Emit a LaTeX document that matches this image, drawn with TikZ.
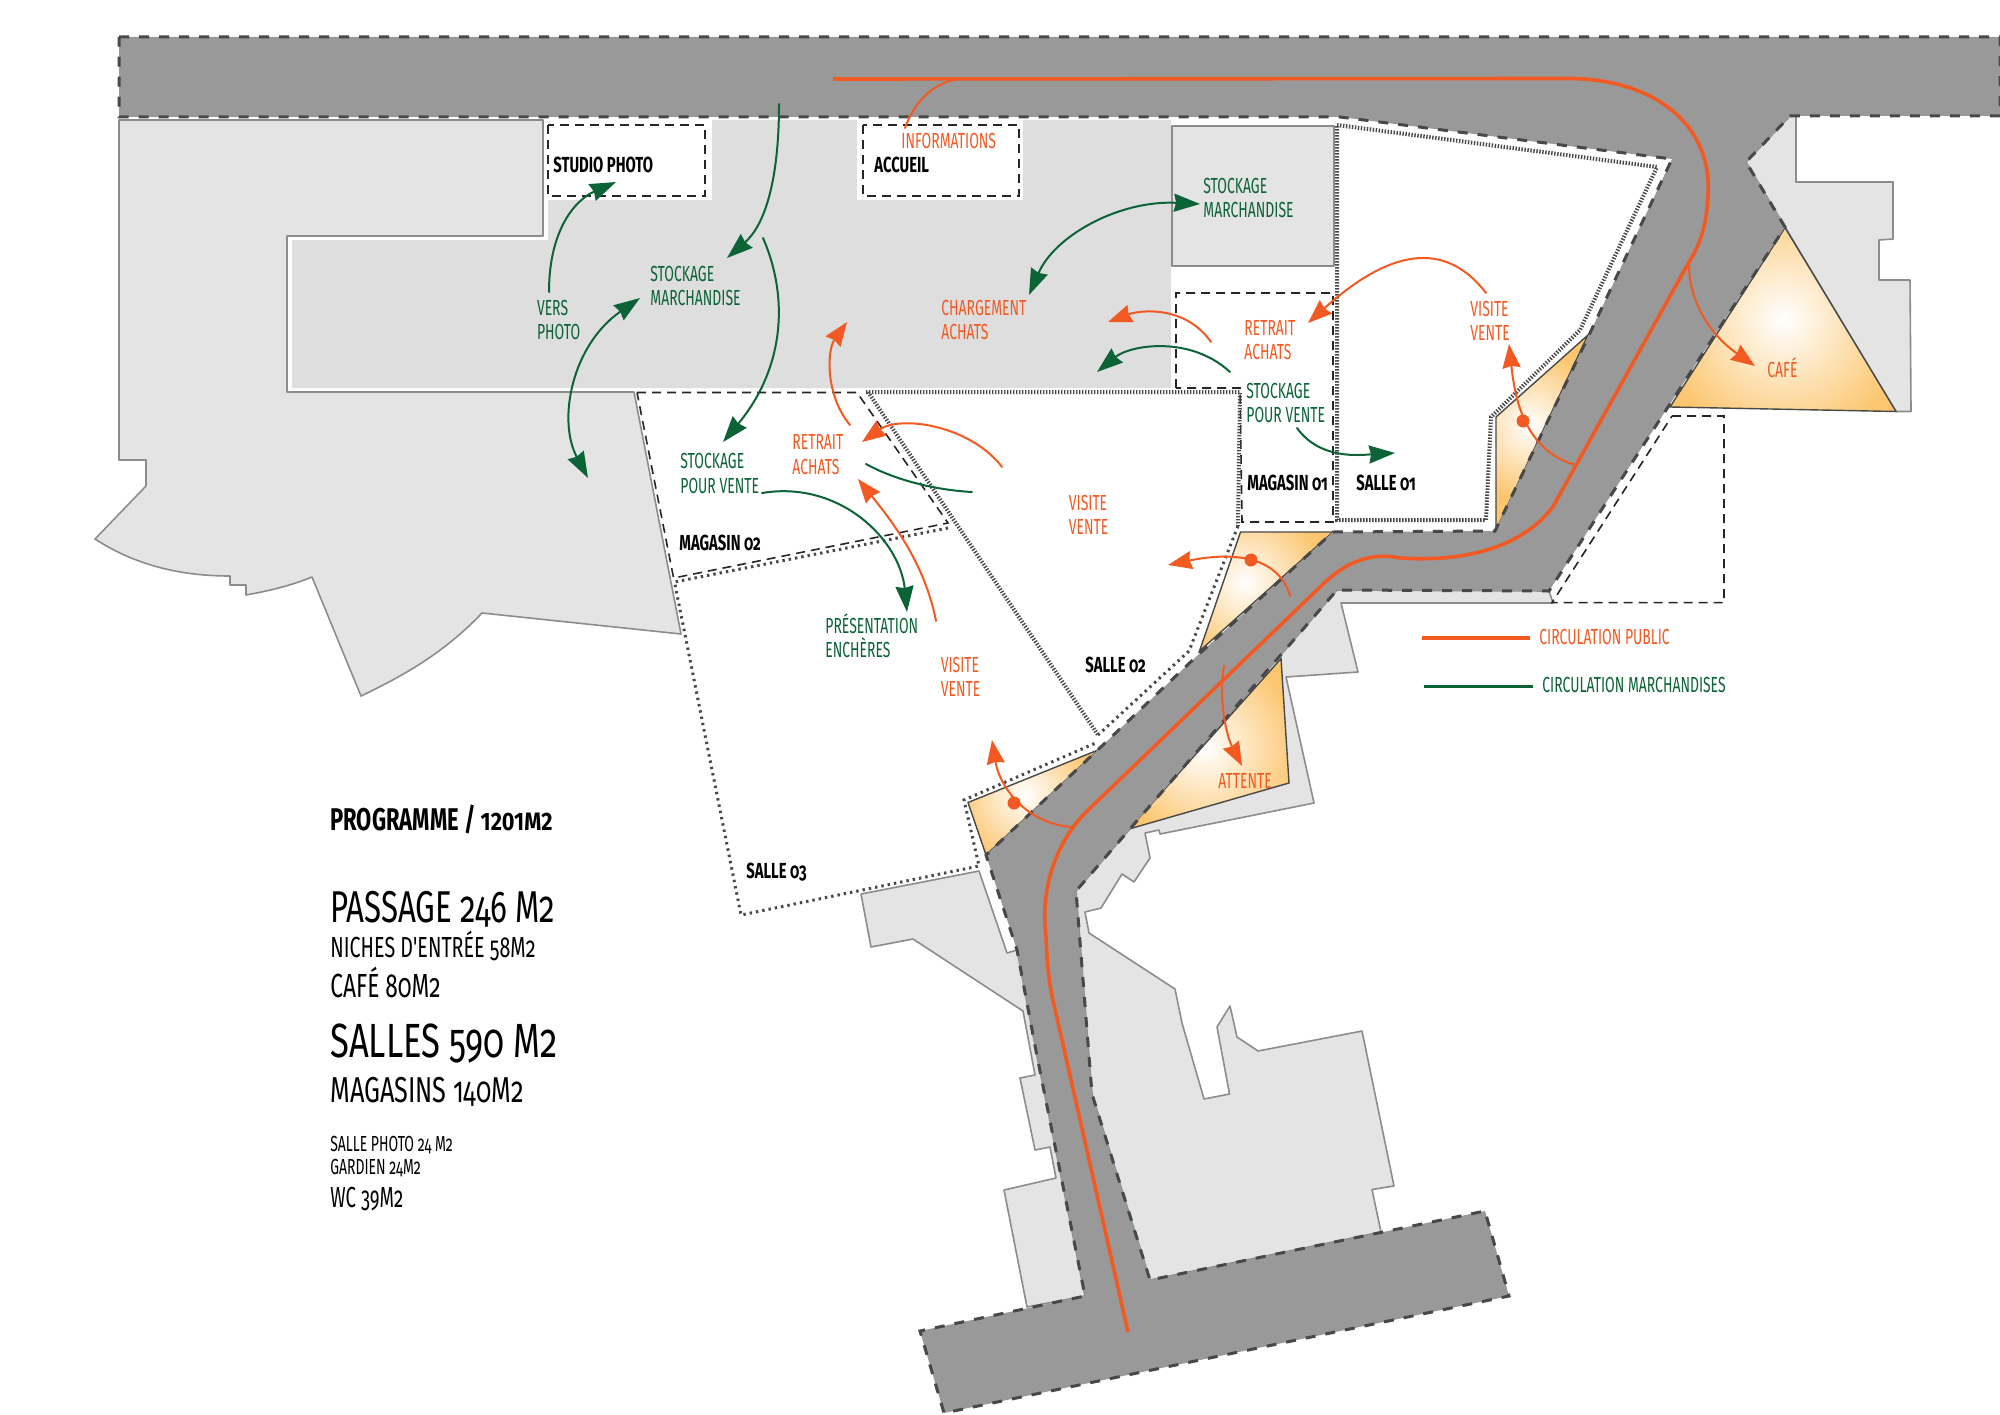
\documentclass[tikz,border=0pt]{standalone}
\usepackage{fontspec}
\usetikzlibrary{arrows.meta}
\setmainfont{Fira Sans}
\newfontfamily\din[FakeStretch=0.64,Numbers=OldStyle]{Fira Sans}
\newfontfamily\dina[FakeStretch=0.68,Numbers=OldStyle]{Fira Sans}
\newfontfamily\dinb[FakeStretch=0.70,Numbers=OldStyle]{Fira Sans}
\newfontfamily\dinc[FakeStretch=0.72,Numbers=OldStyle]{Fira Sans}
\newfontfamily\dinp[FakeStretch=0.70,Numbers=Lining]{Fira Sans}
\newfontfamily\dinq[FakeStretch=0.86,Numbers=Lining]{Fira Sans}
\definecolor{pass}{HTML}{999999}
\definecolor{dashc}{HTML}{484848}
\definecolor{blockc}{HTML}{E4E4E4}
\definecolor{courtc}{HTML}{DEDEDE}
\definecolor{edgec}{HTML}{8C8C8C}
\definecolor{oran}{HTML}{F25A22}
\definecolor{gree}{HTML}{0B6336}
\definecolor{nichec}{HTML}{FCC670}
\pgfdeclareradialshading{nicheshade}{\pgfpointorigin}{color(0bp)=(white);color(25bp)=(nichec);color(50bp)=(nichec)}
\tikzset{
  block/.style={fill=blockc,draw=edgec,line width=.8bp,line join=round},
  passage/.style={fill=pass,draw=dashc,line width=1.5bp,dash pattern=on 5bp off 5bp},
  thindash/.style={draw=black!85,line width=.8bp,dash pattern=on 4.5bp off 3bp},
  finedots/.style={draw=dashc,line width=2bp,dash pattern=on .7bp off .8bp},
  wide dots/.style={draw=dashc,line width=1.5bp,dash pattern=on 1.2bp off 2bp},
  orangeline/.style={draw=oran,line width=1bp,line cap=round},
  greenline/.style={draw=gree,line width=1bp,line cap=round},
  orangeto/.style={orangeline,-{Stealth[length=12bp,width=9bp,inset=1bp]}},
  greento/.style={greenline,-{Stealth[length=13bp,width=9bp,inset=1bp]}},
  greenboth/.style={greenline,{Stealth[length=13bp,width=9bp,inset=1bp]}-{Stealth[length=13bp,width=9bp,inset=1bp]}},
  route/.style={draw=oran,line width=1.8bp},
  lab/.style={anchor=base west,inner sep=0pt,xshift=-.5bp,yshift=-.5bp,font=\din\fontsize{10.9bp}{12bp}\selectfont},
  olab/.style={lab,text=oran},
  glab/.style={lab,text=gree},
  blab/.style={anchor=base west,inner sep=0pt,yshift=-.5bp,font=\dina\bfseries\fontsize{10.9bp}{12bp}\selectfont,text=black},
  prog/.style={anchor=base west,inner sep=0pt,text=black},
  dotmark/.style={fill=oran,draw=none},
  nicheedge/.style={draw=dashc,line width=.7bp,fill=none}
}
\newcommand\niche[4]{%
  \fill[nichec] #1;
  \begin{scope}\clip #1; \shade[shading=nicheshade] (#2,#3) circle (#4); \end{scope}
  \draw[nicheedge] #1;}
\begin{document}
\begin{tikzpicture}[x=.5bp,y=-.5bp]
\useasboundingbox[fill=white] (0,0) rectangle (2000,1414);
% left block
\path[block] (119,120) -- (543,120) -- (543,236) -- (287,236) -- (287,392) -- (634,392) -- (681,634) -- (482,613)
  .. controls (445,652) and (405,675) .. (361,696) -- (312,577) .. controls (290,586) and (268,591) .. (246,595)
  -- (246,585) -- (230,585) -- (230,576) .. controls (180,576) and (135,565) .. (95,539) -- (146,486) -- (146,460) -- (119,460) -- cycle;
% courtyard
\fill[courtc] (292,240) -- (548,240) -- (548,200) -- (712,200) -- (712,120) -- (1171,120) -- (1171,388) -- (292,388) -- cycle;
\fill[white] (857,117) rectangle (1023,200);
\path[block] (1172,126) rectangle (1334,266);
% right block
\path[block] (1790,116) -- (1796,116) -- (1796,182) -- (1893,182) -- (1893,239) -- (1879,240) -- (1879,280) -- (1910,280) -- (1911,411.5) -- (1896,411.5) -- (1785,227) -- (1746,162) -- cycle;
% blocks below the passage
\path[block] (1549,591) -- (1553,603) -- (1341,603) -- (1358,672) -- (1286,677) -- (1314,803) -- (1160,834) -- (1159,830) -- (1145,833) -- (1150,858) -- (1134,882) -- (1122,874) -- (1101,908) -- (1085,912) -- (1089,933) -- (1175,989) -- (1182,1023) -- (1204,1099) -- (1229.5,1094) -- (1217,1027) -- (1230,1006) -- (1237,1037) -- (1258,1051) -- (1362,1031) -- (1394,1186) -- (1372,1189.5) -- (1381,1232) -- (1150,1280) -- (1092,1094) -- (1076,891) -- (1129,830) -- (1337,590) -- cycle;
\path[block] (979,871) -- (861,894) -- (871,947) -- (913,939) -- (1023,1011) -- (1035,1075) -- (1020,1078) -- (1035,1150) -- (1050,1147) -- (1056,1178) -- (1004,1190) -- (1027,1307) -- (1085,1296) -- (1036,1051) -- (1017,950) -- (1007,953) -- cycle;
% niches
\niche{(1496,417) -- (1588,335) -- (1496,530) -- cycle}{1530}{425}{75}
\niche{(1240.5,532) -- (1333,532) -- (1199.5,651) -- cycle}{1245}{583}{80}
\niche{(968,802.5) -- (1098,750) -- (986,855) -- cycle}{1025}{795}{70}
\niche{(1281,658.6) -- (1289,783) -- (1129,829) -- cycle}{1205}{748}{95}
\niche{(1785,227.6) -- (1896,411.5) -- (1670,407) -- cycle}{1783}{319}{125}
% dashed rooms
\draw[thindash] (548,125) rectangle (705,196);
\draw[thindash] (863,125) rectangle (1019,196);
\draw[thindash] (1176,388) -- (1176,293) -- (1333,293) -- (1333,522) -- (1242,522) -- (1240,388) -- cycle;
\draw[thindash] (637,392.5) -- (857,392.5) -- (948,523) -- (673.6,578) -- cycle;
\draw[thindash] (1672,416) -- (1724,416) -- (1724,602.6) -- (1552,602.6) -- cycle;
% dotted rooms
\draw[finedots] (1337,125) -- (1657,167) -- (1580,330) -- (1491,417) -- (1486,520) -- (1337,520) -- cycle;
\draw[finedots] (866,392) -- (1240,392) -- (1238,526);
\draw[finedots] (868,392) -- (1098,735);
\draw[wide dots] (1238,526) -- (1189,651) -- (1098,735);
\draw[wide dots] (948,528) -- (674.5,582) -- (741,915) -- (979,866) -- (964,800) -- (1098,742);
% passage
\path[draw=white,line width=.6bp] (119,117) -- (1340,117);
\path[passage] (119,37) -- (2000,37) -- (2000,116) -- (1790,116) -- (1746,162) -- (1785,227) -- (1668,407) -- (1549,591) -- (1337,590) -- (1129,830) -- (1076,891) -- (1092,1094) -- (1150,1280) -- (1485,1211) -- (1509,1296) -- (944,1413) -- (920,1331) -- (1085,1296) -- (1036,1051) -- (1017,950) -- (986,855) -- (1104,744) -- (1198,655) -- (1333,532) -- (1495,531) -- (1589,335) -- (1672,159) -- (1340,117) -- (119,117) -- cycle;
% main route
\draw[route] (833,79) -- (1572,78.5) .. controls (1655,80) and (1712,125) .. (1708,194) .. controls (1707,225) and (1700,245) .. (1687,265.5) -- (1553,506.6) .. controls (1520,550) and (1460,562) .. (1400,558) .. controls (1370,552) and (1345,562) .. (1320,587) -- (1084,814) .. controls (1055,845) and (1040,890) .. (1046,937) .. controls (1047,960) and (1048,975) .. (1052,996) -- (1128,1332);
% green arrows
\draw[greento] (779,104) .. controls (779,180) and (765,225) .. (727,258);
\draw[greento] (763,238) .. controls (790,300) and (783,370) .. (723,442);
\draw[greento] (549,292) .. controls (549,230) and (575,200) .. (616,182);
\draw[greenboth] (640,298) .. controls (572,345) and (557,420) .. (588,478);
\draw[greenboth] (1200,204) .. controls (1120,200) and (1055,235) .. (1029,295);
\draw[greento] (1230,372) .. controls (1190,335) and (1130,345) .. (1097,372);
\draw[greenline] (866,464) .. controls (895,480) and (935,490) .. (972,492);
\draw[greento] (762,493) .. controls (840,480) and (900,540) .. (907,612);
\draw[greento] (1297,428) .. controls (1320,460) and (1360,455) .. (1395,453);
% orange arrows
\draw[orangeto] (1211,342) .. controls (1185,305) and (1140,310) .. (1108,322);
\draw[orangeto] (1486,293) .. controls (1440,233) and (1380,258) .. (1308,323);
\draw[orangeto] (1689,265.5) .. controls (1689,297) and (1706,332) .. (1755,366);
\draw[orangeto] (1575,465) .. controls (1525,450) and (1515,400) .. (1509,344);
\draw[orangeto] (1290,596) .. controls (1280,560) and (1240,550) .. (1168,565);
\draw[orangeto] (1073,827) .. controls (1030,825) and (1000,790) .. (992,740);
\draw[orangeto] (1224,666) .. controls (1218,701) and (1227,737) .. (1242,766);
\draw[orangeline] (905,128) .. controls (915,100) and (935,82) .. (959,79);
\draw[orangeto] (850,425) .. controls (825,395) and (827,350) .. (847,322);
\draw[orangeto] (1002,467) .. controls (970,425) and (900,415) .. (862,442);
\draw[orangeto] (936,621) .. controls (925,565) and (895,525) .. (858,479);
\fill[dotmark] (1523,421) circle (6.5);
\fill[dotmark] (1251,560) circle (6.5);
\fill[dotmark] (1014,803) circle (6.5);
% legend
\coordinate (legOa) at (1422,638); \coordinate (legOb) at (1530,638);
\coordinate (legGa) at (1424,686.5); \coordinate (legGb) at (1533,686.5);
\draw[route,line width=1.6bp] (legOa) -- (legOb);
\draw[draw=gree,line width=1.6bp] (legGa) -- (legGb);
\node[olab] (tcp) at (1540,643) {CIRCULATION PUBLIC};
\node[glab] (tcm) at (1543,691) {CIRCULATION MARCHANDISES};
% labels
\node[glab] (a1) at (651,280) {STOCKAGE}; \node[glab] (a2) at (651,304) {MARCHANDISE};
\node[glab] (b1) at (537.6,314) {VERS}; \node[glab] (b2) at (537.6,338) {PHOTO};
\node[blab] (c1) at (553,171) {STUDIO PHOTO};
\node[olab] (d1) at (902,147) {INFORMATIONS};
\node[blab] (d2) at (874,171) {ACCUEIL};
\node[glab] (e1) at (1204,192) {STOCKAGE}; \node[glab] (e2) at (1204,216) {MARCHANDISE};
\node[olab] (f1) at (942,314) {CHARGEMENT}; \node[olab] (f2) at (942,338) {ACHATS};
\node[olab] (g1) at (1245,334) {RETRAIT}; \node[olab] (g2) at (1245,358) {ACHATS};
\node[glab] (h1) at (1247,397) {STOCKAGE}; \node[glab] (h2) at (1247,421) {POUR VENTE};
\node[blab] (i1) at (1247,489) {MAGASIN 01};
\node[blab] (i2) at (1356,489) {SALLE 01};
\node[olab] (j1) at (1471,315.5) {VISITE}; \node[olab] (j2) at (1471,339.6) {VENTE};
\node[olab] (k1) at (1768,376) {CAFÉ};
\node[glab] (l1) at (681,467.5) {STOCKAGE}; \node[glab] (l2) at (681,492) {POUR VENTE};
\node[olab] (m1) at (793,448.6) {RETRAIT}; \node[olab] (m2) at (793,473) {ACHATS};
\node[blab] (n1) at (679,549) {MAGASIN 02};
\node[olab] (o1) at (1069.5,509.6) {VISITE}; \node[olab] (o2) at (1069.5,533.6) {VENTE};
\node[glab] (p1) at (826,632) {PRÉSENTATION}; \node[glab] (p2) at (826,656) {ENCHÈRES};
\node[olab] (q1) at (941.4,671) {VISITE}; \node[olab] (q2) at (941.4,695) {VENTE};
\node[blab] (r1) at (1085,671) {SALLE 02};
\node[blab] (r2) at (746,877) {SALLE 03};
\node[olab] (s1) at (1219,787) {ATTENTE};
% programme
\node[prog,font=\dinp\bfseries\fontsize{15.7bp}{18bp}\selectfont] (t1) at (330,830) {PROGRAMME / {\dinq\bfseries\fontsize{12.6bp}{14bp}\selectfont 1201M2}};
\node[prog,font=\dinb\fontsize{22.3bp}{24bp}\selectfont] (t2) at (330,922) {PASSAGE 246 M2};
\node[prog,font=\dina\fontsize{14.5bp}{16bp}\selectfont] (t3) at (330,957) {NICHES D'ENTRÉE 58M2};
\node[prog,font=\dina\fontsize{16.7bp}{18bp}\selectfont] (t4) at (330,997) {CAFÉ 80M2};
\node[prog,font=\dinc\fontsize{24bp}{26bp}\selectfont] (t5) at (330,1057) {SALLES 590 M2};
\node[prog,font=\dinb\fontsize{18bp}{20bp}\selectfont] (t6) at (330,1102) {MAGASINS 140M2};
\node[prog,font=\din\fontsize{10.9bp}{12bp}\selectfont] (t7) at (330,1151) {SALLE PHOTO 24 M2};
\node[prog,font=\din\fontsize{10.9bp}{12bp}\selectfont] (t8) at (330,1174) {GARDIEN 24M2};
\node[prog,font=\din\fontsize{14.5bp}{16bp}\selectfont] (t9) at (330,1207) {WC 39M2};
\end{tikzpicture}
\end{document}
